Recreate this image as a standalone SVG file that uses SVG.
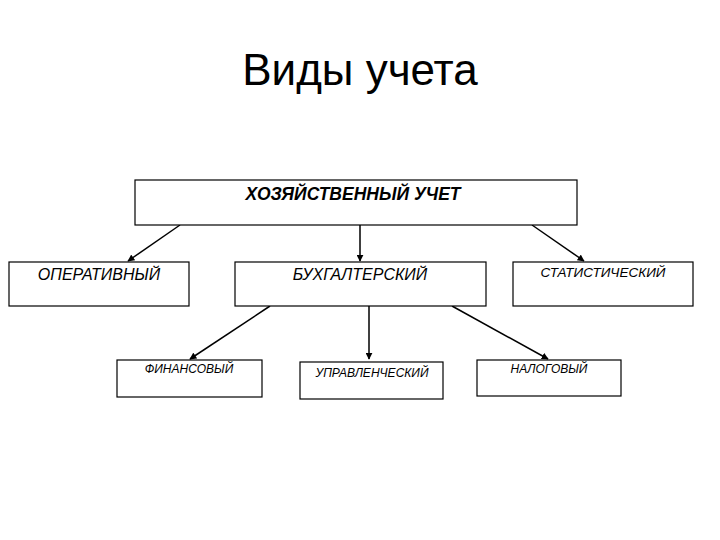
<svg xmlns="http://www.w3.org/2000/svg" width="720" height="540" viewBox="0 0 720 540">
<style>
.box{fill:#fff;stroke:#000;stroke-width:1.2}
.t{font-family:"Liberation Sans",Arial,sans-serif;font-style:italic;fill:#000;text-anchor:middle}
.ln{stroke:#000;stroke-width:1.5;fill:none;marker-end:url(#ah)}
</style>
<defs>
<marker id="ah" viewBox="0 0 10 10" refX="9" refY="5" markerWidth="7" markerHeight="7" orient="auto" markerUnits="userSpaceOnUse">
<path d="M0,0 L10,5 L0,10 z" fill="#000"/>
</marker>
</defs>
<rect width="720" height="540" fill="#fff"/>
<text x="360" y="85" font-family="'Liberation Sans',Arial,sans-serif" font-size="44" text-anchor="middle">Виды учета</text>
<g id="connectors">
<line class="ln" x1="180" y1="225" x2="128" y2="261"/>
<line class="ln" x1="360" y1="225" x2="360" y2="261"/>
<line class="ln" x1="532" y1="225" x2="584" y2="261"/>
<line class="ln" x1="270" y1="306" x2="190" y2="359"/>
<line class="ln" x1="369" y1="306" x2="369" y2="359"/>
<line class="ln" x1="452" y1="306" x2="548" y2="359"/>
</g>
<g id="n-top"><rect class="box" x="135" y="180" width="442" height="45"/><text class="t" x="353" y="200" font-size="17.5" font-weight="bold">ХОЗЯЙСТВЕННЫЙ УЧЕТ</text></g>
<g id="n-oper"><rect class="box" x="9" y="262" width="180" height="44"/><text class="t" x="99" y="280" font-size="16">ОПЕРАТИВНЫЙ</text></g>
<g id="n-buh"><rect class="box" x="235" y="262" width="251" height="44"/><text class="t" x="360" y="280" font-size="16">БУХГАЛТЕРСКИЙ</text></g>
<g id="n-stat"><rect class="box" x="513" y="262" width="180" height="44"/><text class="t" x="603" y="277" font-size="13.5">СТАТИСТИЧЕСКИЙ</text></g>
<g id="n-fin"><rect class="box" x="117" y="360" width="145" height="37"/><text class="t" x="189" y="373" font-size="12">ФИНАНСОВЫЙ</text></g>
<g id="n-upr"><rect class="box" x="300" y="362" width="143" height="37"/><text class="t" x="372" y="377" font-size="12">УПРАВЛЕНЧЕСКИЙ</text></g>
<g id="n-nal"><rect class="box" x="477" y="360" width="144" height="36"/><text class="t" x="549" y="373" font-size="12">НАЛОГОВЫЙ</text></g>
</svg>
